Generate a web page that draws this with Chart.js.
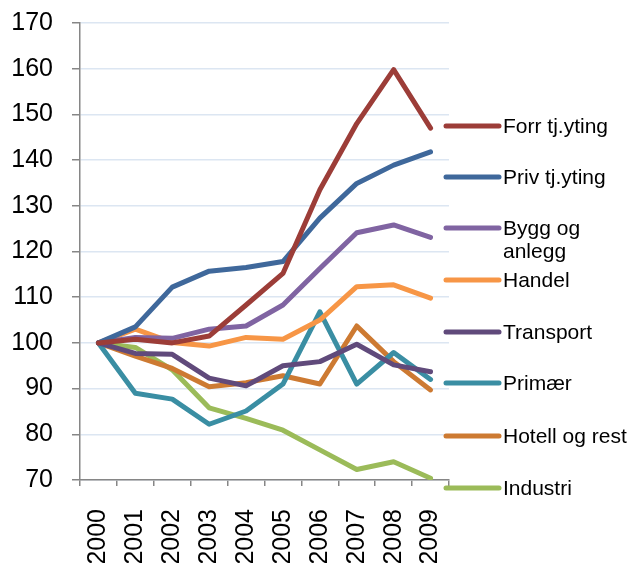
<!DOCTYPE html>
<html>
<head>
<meta charset="utf-8">
<script src="https://cdn.jsdelivr.net/npm/chart.js@4"></script>
<style>
  html, body { margin: 0; padding: 0; background: #fff; }
  #wrap { width: 631px; height: 563px; }
</style>
</head>
<body>
<div id="wrap"><canvas id="lineChart" width="631" height="563"></canvas></div>
<script>
const years = ['2000', '2001', '2002', '2003', '2004', '2005', '2006', '2007', '2008', '2009'];
const forrTjyting = [100, 100.8, 100, 101.5, 108.3, 115.2, 133.5, 148, 159.8, 147];
const privTjyting = [100, 103.5, 112.2, 115.7, 116.5, 117.8, 127.3, 134.9, 138.9, 141.8];
const byggAnlegg = [100, 101.2, 101, 103, 103.7, 108.3, 116.3, 124.1, 125.8, 123.1];
const handel = [100, 103, 100.1, 99.3, 101.2, 100.8, 105, 112.3, 112.7, 109.8];
const transport = [100, 97.7, 97.5, 92.3, 90.6, 95, 95.9, 99.7, 95.2, 93.7];
const primaer = [100, 89, 87.7, 82.2, 85.1, 91, 106.8, 91, 97.9, 92];
const hotellRest = [100, 97.1, 94.4, 90.4, 91.3, 92.8, 91, 103.7, 95.9, 89.7];
const industri = [100, 99, 94.1, 85.8, 83.5, 80.9, 76.6, 72.3, 74, 70.4];

const seriesNames = ['Forr tj.yting', 'Priv tj.yting', ['Bygg og', 'anlegg'], 'Handel',
  'Transport', 'Primær', 'Hotell og rest', 'Industri'];
const seriesData = [forrTjyting, privTjyting, byggAnlegg, handel, transport, primaer, hotellRest, industri];
const seriesColors = ['#9c3d38', '#3f689b', '#8064a2', '#f79646', '#604a7b', '#3a8ea3', '#cd7a32', '#9bbb59'];
// legend rows (y of the sample line)
const legendY = [126, 177, 228, 280, 332, 383, 436, 488];

const font = "Arial, 'Liberation Sans', sans-serif";

const sideLegend = {
  id: 'sideLegend',
  afterDraw(chart) {
    const ctx = chart.ctx;
    ctx.save();
    ctx.font = '21px ' + font;
    ctx.textBaseline = 'middle';
    chart.data.datasets.forEach((ds, i) => {
      const y = legendY[i];
      ctx.strokeStyle = ds.borderColor;
      ctx.lineWidth = 5;
      ctx.lineCap = 'round';
      ctx.beginPath();
      ctx.moveTo(446, y);
      ctx.lineTo(499, y);
      ctx.stroke();
      ctx.fillStyle = '#000';
      const lines = [].concat(seriesNames[i]);
      lines.forEach((t, k) => ctx.fillText(t, 503, y + 1 + k * 23));
    });
    ctx.restore();
  },
};

new Chart(document.getElementById('lineChart').getContext('2d'), {
  type: 'line',
  data: {
    labels: years,
    datasets: seriesData.map((d, i) => ({
      label: [].concat(seriesNames[i]).join(' '),
      data: d,
      borderColor: seriesColors[i],
      backgroundColor: seriesColors[i],
      borderWidth: 5,
      borderCapStyle: 'round',
      borderJoinStyle: 'round',
      pointRadius: 0,
      tension: 0,
    })),
  },
  options: {
    responsive: false,
    animation: false,
    layout: { padding: { top: 23, right: 182, left: 0, bottom: 0 } },
    plugins: { legend: { display: false }, tooltip: { enabled: false } },
    scales: {
      x: {
        offset: true,
        grid: {
          offset: true,
          drawOnChartArea: false,
          tickLength: 6,
          tickColor: '#868686',
          lineWidth: 1.5,
        },
        border: { color: '#868686', width: 1.5 },
        ticks: {
          minRotation: 90,
          maxRotation: 90,
          autoSkip: false,
          color: '#000',
          padding: 23,
          font: { family: font, size: 25 },
        },
        afterFit(scale) {
          scale.height = 83;
          scale.paddingLeft = 0;
          scale.paddingRight = 0;
        },
      },
      y: {
        min: 70,
        max: 170,
        ticks: {
          stepSize: 10,
          color: '#000',
          padding: 19,
          font: { family: font, size: 25 },
        },
        grid: {
          color: '#dce6f2',
          lineWidth: 1.5,
          tickLength: 8,
          tickColor: '#868686',
        },
        border: { color: '#868686', width: 1.5 },
        afterFit(scale) {
          scale.width = 80;
          scale.paddingTop = 0;
          scale.paddingBottom = 0;
        },
      },
    },
  },
  plugins: [sideLegend],
});
</script>
</body>
</html>
